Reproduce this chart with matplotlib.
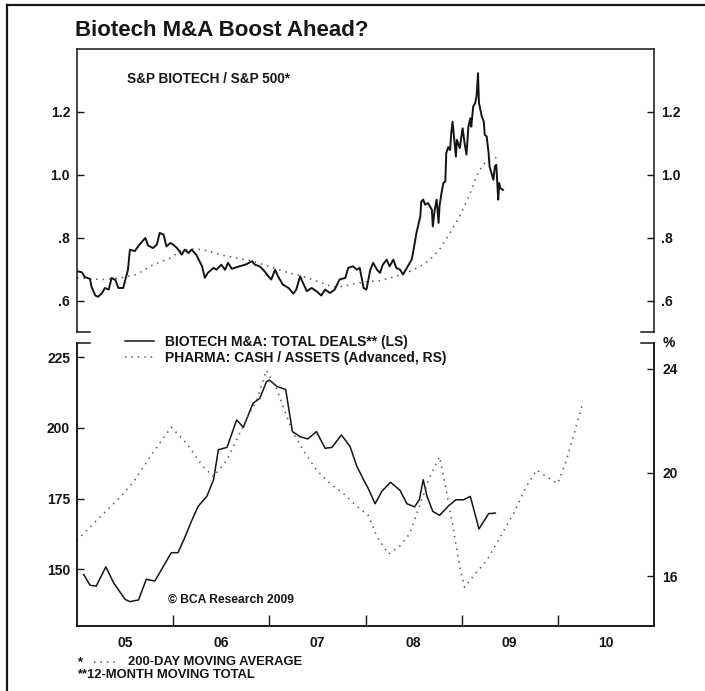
import matplotlib
matplotlib.use('Agg')
import matplotlib.pyplot as plt
from matplotlib.lines import Line2D

# ---------------- DATA ----------------
# S&P Biotech / S&P 500 relative price (decimal year, ratio)
bio_t = [2005.00, 2005.05, 2005.08, 2005.135, 2005.15, 2005.19, 2005.22, 2005.26, 2005.29, 2005.33,
         2005.36, 2005.40, 2005.43, 2005.48, 2005.53, 2005.55, 2005.60, 2005.65, 2005.71, 2005.74,
         2005.79, 2005.83, 2005.86, 2005.90, 2005.93, 2005.97, 2006.00, 2006.04, 2006.09, 2006.12,
         2006.16, 2006.19, 2006.24, 2006.30, 2006.33, 2006.36, 2006.42, 2006.45, 2006.50, 2006.54,
         2006.57, 2006.61, 2006.64, 2006.69, 2006.75, 2006.82, 2006.85, 2006.90, 2006.95, 2006.99,
         2007.02, 2007.06, 2007.09, 2007.14, 2007.20, 2007.25, 2007.28, 2007.32, 2007.35, 2007.39,
         2007.44, 2007.49, 2007.54, 2007.58, 2007.63, 2007.68, 2007.73, 2007.79, 2007.82, 2007.87,
         2007.91, 2007.94, 2007.98, 2008.01, 2008.05, 2008.08, 2008.12,
         2008.15, 2008.18, 2008.22, 2008.25, 2008.29, 2008.32, 2008.36, 2008.39, 2008.43, 2008.46,
         2008.48, 2008.50, 2008.53, 2008.57, 2008.58, 2008.60, 2008.62, 2008.65, 2008.69, 2008.70,
         2008.72, 2008.74, 2008.76, 2008.77, 2008.79, 2008.81, 2008.83, 2008.84, 2008.86, 2008.88,
         2008.89, 2008.905, 2008.92, 2008.94, 2008.95, 2008.98, 2009.01, 2009.03, 2009.05, 2009.07,
         2009.09, 2009.10, 2009.12, 2009.14, 2009.155, 2009.17, 2009.18, 2009.21, 2009.23, 2009.24,
         2009.26, 2009.28, 2009.29, 2009.31, 2009.33, 2009.345, 2009.36, 2009.37, 2009.38, 2009.39,
         2009.40, 2009.43]
bio_v = [0.693, 0.690, 0.675, 0.669, 0.645, 0.616, 0.612, 0.624, 0.640, 0.635,
         0.672, 0.665, 0.640, 0.640, 0.698, 0.762, 0.757, 0.778, 0.799, 0.775,
         0.767, 0.778, 0.815, 0.810, 0.772, 0.783, 0.778, 0.767, 0.746, 0.762,
         0.751, 0.762, 0.746, 0.709, 0.672, 0.688, 0.704, 0.698, 0.714, 0.698,
         0.720, 0.701, 0.704, 0.709, 0.714, 0.725, 0.714, 0.709, 0.693, 0.677,
         0.667, 0.698, 0.677, 0.651, 0.640, 0.622, 0.635, 0.677, 0.656, 0.630,
         0.640, 0.630, 0.616, 0.635, 0.624, 0.635, 0.667, 0.672, 0.704, 0.709,
         0.698, 0.704, 0.640, 0.635, 0.698, 0.720, 0.698,
         0.688, 0.714, 0.730, 0.709, 0.730, 0.704, 0.698, 0.683, 0.704, 0.720,
         0.730, 0.762, 0.815, 0.868, 0.915, 0.921, 0.905, 0.910, 0.889, 0.836,
         0.889, 0.921, 0.847, 0.900, 0.942, 0.974, 0.979, 1.069, 1.088, 1.079,
         1.127, 1.169, 1.122, 1.058, 1.111, 1.085, 1.148, 1.101, 1.064, 1.153,
         1.180, 1.153, 1.217, 1.228, 1.249, 1.323, 1.228, 1.185, 1.169, 1.127,
         1.122, 1.069, 1.026, 1.005, 0.984, 1.026, 1.032, 0.974, 0.921, 0.974,
         0.958, 0.952]

# 200-day moving average
ma_t = [2005.00, 2005.135, 2005.27, 2005.45, 2005.62, 2005.79, 2005.97, 2006.07, 2006.17, 2006.31,
        2006.49, 2006.66, 2006.83, 2007.01, 2007.18, 2007.35, 2007.53, 2007.66, 2007.77, 2007.87,
        2008.05, 2008.15, 2008.29, 2008.43, 2008.57, 2008.67, 2008.77, 2008.88, 2008.98, 2009.09,
        2009.155, 2009.22, 2009.29, 2009.39]
ma_v = [0.672, 0.669, 0.667, 0.672, 0.683, 0.714, 0.735, 0.757, 0.764, 0.762,
        0.746, 0.735, 0.725, 0.707, 0.690, 0.677, 0.658, 0.643, 0.645, 0.653,
        0.661, 0.663, 0.675, 0.688, 0.709, 0.730, 0.762, 0.815, 0.868, 0.942,
        0.995, 1.032, 1.048, 1.058]

# Biotech M&A: total deals, 12-month moving total (LS)
deals_t = [2005.07, 2005.135, 2005.20, 2005.30, 2005.38, 2005.50, 2005.55, 2005.64, 2005.72, 2005.81,
           2005.90, 2005.98, 2006.05, 2006.12, 2006.19, 2006.26, 2006.35, 2006.42, 2006.47, 2006.56,
           2006.66, 2006.73, 2006.83, 2006.90, 2006.97, 2007.00, 2007.08, 2007.17, 2007.24, 2007.32,
           2007.40, 2007.49, 2007.58, 2007.65, 2007.75, 2007.84, 2007.91, 2007.98, 2008.03, 2008.10,
           2008.17, 2008.26, 2008.36, 2008.43, 2008.51, 2008.56, 2008.60, 2008.64, 2008.70, 2008.77,
           2008.86, 2008.94, 2009.02, 2009.09, 2009.18, 2009.28, 2009.35]
deals_v = [148.2, 144.4, 144.1, 150.9, 145.3, 139.4, 138.6, 139.2, 146.5, 145.9,
           151.2, 155.9, 155.9, 161.2, 167.0, 172.3, 175.8, 181.7, 192.3, 193.1,
           202.8, 200.2, 208.7, 210.4, 216.3, 216.9, 214.6, 213.6, 198.7, 196.9,
           196.1, 198.7, 192.8, 193.1, 197.5, 193.4, 186.4, 181.7, 178.5, 173.2,
           177.6, 180.8, 177.9, 173.2, 172.1, 174.6, 181.7, 175.8, 170.5, 169.1,
           172.3, 174.6, 174.6, 175.8, 164.3, 169.7, 169.9]

# Pharma: cash / assets, advanced (RS, %)
pharma_t = [2005.00, 2005.135, 2005.31, 2005.45, 2005.60, 2005.76, 2005.86, 2005.98, 2006.14, 2006.31,
            2006.42, 2006.56, 2006.66, 2006.76, 2006.87, 2006.97, 2007.08, 2007.18, 2007.24, 2007.35,
            2007.49, 2007.63, 2007.77, 2007.91, 2008.03, 2008.12, 2008.24, 2008.36, 2008.46, 2008.57,
            2008.67, 2008.77, 2008.84, 2008.91, 2008.98, 2009.03, 2009.14, 2009.26, 2009.40, 2009.54,
            2009.67, 2009.78, 2009.88, 2010.00, 2010.09, 2010.18, 2010.26]
pharma_v = [17.38, 17.90, 18.54, 19.06, 19.71, 20.61, 21.13, 21.75, 21.13, 20.23,
            19.84, 20.49, 21.26, 22.04, 22.82, 23.95, 23.20, 22.17, 21.58, 20.87,
            20.10, 19.58, 19.19, 18.70, 18.35, 17.51, 16.86, 17.18, 17.64, 18.80,
            19.84, 20.61, 19.32, 17.90, 16.34, 15.57, 16.09, 16.60, 17.51, 18.42,
            19.45, 20.10, 19.84, 19.58, 20.49, 21.65, 22.69]

year_ticks = [2006, 2007, 2008, 2009, 2010]
year_label_pos = [2005.5, 2006.5, 2007.5, 2008.5, 2009.5, 2010.5]
year_labels = ['05', '06', '07', '08', '09', '10']
upper_ticks = [0.6, 0.8, 1.0, 1.2]
upper_labels = ['.6', '.8', '1.0', '1.2']
deals_ticks = [150, 175, 200, 225]
pharma_ticks = [16, 20, 24]

# ---------------- STYLE ----------------
plt.rcParams['font.family'] = ['Liberation Sans', 'DejaVu Sans']
plt.rcParams['font.weight'] = 'bold'
INK = '#151515'
DOT = '#5a5a5a'
DOTSTYLE = (0, (1, 3.2))
W, H = 705, 691
FS = 10

fig = plt.figure(figsize=(7.05, 6.91), dpi=100)
fig.patch.set_facecolor('white')

def fx(px):
    return px / W

def fy(px):
    return 1 - px / H

L, R = fx(77), fx(654)
ax1 = fig.add_axes([L, fy(332), R - L, fy(49) - fy(332)])
ax2 = fig.add_axes([L, fy(626), R - L, fy(343) - fy(626)])
ax3 = ax2.twinx()

for ax in (ax1, ax2, ax3):
    for s in ax.spines.values():
        s.set_linewidth(1.1)
        s.set_color(INK)

# ---- upper panel ----
ax1.plot(ma_t, ma_v, color=DOT, lw=1.1, ls=DOTSTYLE)
ax1.plot(bio_t, bio_v, color=INK, lw=1.4)
ax1.set_xlim(2005, 2011)
ax1.set_ylim(0.5, 1.4)
ax1.set_xticks([])
ax1.set_yticks(upper_ticks, upper_labels)
ax1.tick_params(axis='y', direction='in', length=5, width=1, left=True, right=True,
                labelleft=True, labelright=True, labelsize=FS, pad=5, colors=INK)
ax1.spines['bottom'].set_visible(False)
stub = 13 / 577
for x0, x1 in ((0, stub), (1 - stub, 1)):
    ax1.add_line(Line2D([x0, x1], [0, 0], transform=ax1.transAxes, color=INK, lw=1.1, clip_on=False))
ax1.text((127 - 77) / 577, (332 - 79) / 283, 'S&P BIOTECH / S&P 500*', transform=ax1.transAxes,
         fontsize=9.8, fontweight='bold', va='center', ha='left', color=INK)

# ---- lower panel ----
ax2.plot(deals_t, deals_v, color=INK, lw=1.1)
ax3.plot(pharma_t, pharma_v, color=DOT, lw=1.1, ls=DOTSTYLE)
ax2.set_xlim(2005, 2011)
ax2.set_ylim(130, 230)
ax3.set_ylim(14.08, 25.0)
ax2.set_yticks(deals_ticks, [str(v) for v in deals_ticks])
ax3.set_yticks(pharma_ticks, [str(v) for v in pharma_ticks])
ax2.tick_params(axis='y', direction='in', length=5, width=1, labelsize=FS, pad=5, colors=INK)
ax3.tick_params(axis='y', direction='in', length=5, width=1, labelsize=FS, pad=6, colors=INK)
ax2.set_xticks(year_ticks)
ax2.set_xticks(year_label_pos, year_labels, minor=True)
ax2.tick_params(axis='x', which='major', direction='in', length=8, width=1, labelbottom=False, colors=INK)
ax2.tick_params(axis='x', which='minor', length=0, labelsize=FS, pad=7.5, colors=INK)
for ax in (ax2, ax3):
    ax.spines['top'].set_visible(False)
for x0, x1 in ((0, stub), (1 - stub, 1)):
    ax3.add_line(Line2D([x0, x1], [1, 1], transform=ax3.transAxes, color=INK, lw=1.1, clip_on=False))

ax3.text((663 - 77) / 577, 1.0, '%', transform=ax3.transAxes, fontsize=FS, fontweight='bold',
         va='center', ha='left', color=INK)
ax3.text((168 - 77) / 577, (626 - 600) / 283, '\u00a9 BCA Research 2009', transform=ax3.transAxes,
         fontsize=8.7, fontweight='bold', va='center', ha='left', color=INK)

handles = [Line2D([], [], color=INK, lw=1.1), Line2D([], [], color=DOT, lw=1.1, ls=DOTSTYLE)]
labels = ['BIOTECH M&A: TOTAL DEALS** (LS)', 'PHARMA: CASH / ASSETS (Advanced, RS)']
leg = ax3.legend(handles, labels, loc='upper left',
                 bbox_to_anchor=((125 - 77) / 577, (626 - 335.0) / 283),
                 frameon=False, prop={'size': FS, 'weight': 'bold'}, handlelength=2.1,
                 handletextpad=0.75, borderpad=0, borderaxespad=0, labelspacing=0.12)
for t in leg.get_texts():
    t.set_color(INK)

# ---- title, footnotes, frame ----
fig.text(fx(75), fy(30), 'Biotech M&A Boost Ahead?', fontsize=16, fontweight='bold',
         va='center', ha='left', color=INK)
fig.text(fx(77), fy(662), '*', fontsize=9.4, fontweight='bold', va='center', ha='left', color=INK)
fig.add_artist(Line2D([fx(94), fx(116)], [fy(662), fy(662)], color=DOT, lw=1.1, ls=DOTSTYLE))
fig.text(fx(128), fy(662), '200-DAY MOVING AVERAGE', fontsize=9.4, fontweight='bold',
         va='center', ha='left', color=INK)
fig.text(fx(77), fy(675), '**12-MONTH MOVING TOTAL', fontsize=9.4, fontweight='bold',
         va='center', ha='left', color=INK)
fig.add_artist(Line2D([fx(7), fx(7)], [fy(5), 0], color=INK, lw=1.6))
fig.add_artist(Line2D([fx(7), 1], [fy(5), fy(5)], color=INK, lw=1.6))

fig.savefig('out.png', dpi=100, facecolor='white')
